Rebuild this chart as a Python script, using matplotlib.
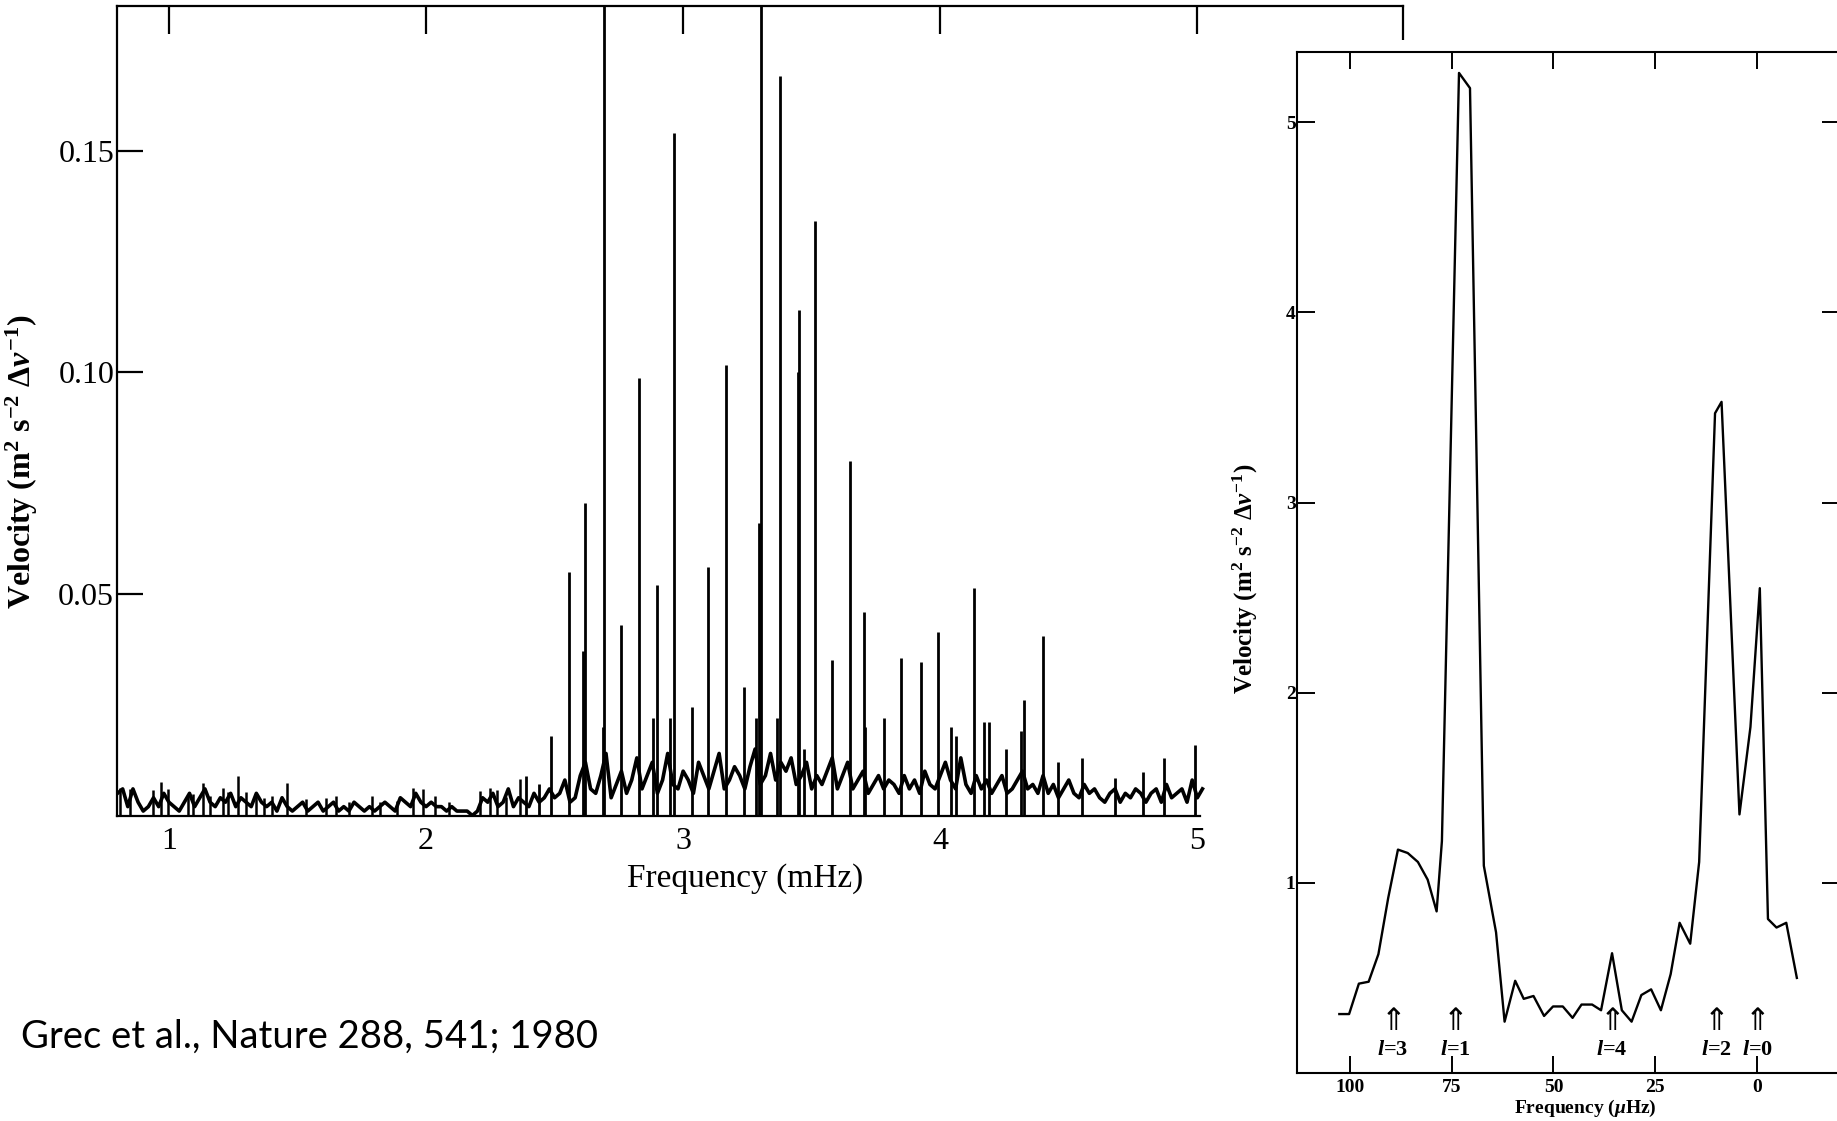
import numpy as np
import matplotlib.pyplot as plt
from matplotlib.patches import Rectangle

# ---- left panel: full velocity spectrum (mHz) ----
# noise floor, 0.80 .. 5.02 mHz every 0.02 mHz, in units of 0.001
floor_start = 0.80
floor_step = 0.02
floor_level = [
    5, 6, 2, 6, 3, 1, 2, 4, 2, 5, 3,
    2, 1, 3, 5, 2, 4, 6, 3, 2, 4,
    3, 5, 2, 4, 3, 2, 5, 3, 2, 3,
    1, 4, 2, 1, 2, 3, 1, 2, 3, 1,
    2, 3, 1, 2, 1, 3, 2, 1, 2, 1,
    2, 3, 2, 1, 4, 3, 2, 5, 3, 2,
    3, 2, 2, 1, 2, 1, 1, 1, 0, 1,
    4, 3, 5, 2, 3, 6, 2, 4, 3, 2,
    5, 3, 4, 6, 4, 5, 8, 3, 4, 9,
    12, 6, 5, 9, 14, 4, 7, 10, 5, 8,
    13, 6, 9, 12, 5, 8, 14, 7, 6, 10,
    8, 5, 12, 9, 6, 10, 14, 6, 8, 11,
    9, 6, 11, 15, 7, 9, 14, 8, 12, 10,
    13, 7, 9, 12, 6, 9, 7, 10, 13, 6,
    9, 12, 6, 8, 10, 5, 7, 9, 6, 8,
    7, 5, 9, 6, 8, 5, 10, 7, 6, 9,
    12, 8, 6, 13, 7, 5, 9, 6, 8, 5,
    7, 9, 5, 6, 8, 10, 6, 7, 5, 9,
    5, 7, 4, 6, 8, 5, 4, 7, 5, 6,
    4, 3, 5, 6, 3, 5, 4, 6, 5, 3,
    5, 6, 3, 7, 4, 5, 6, 3, 8, 4, 6,
]

# p-mode peaks
mode_f = [2.387, 2.44, 2.488, 2.556, 2.612, 2.619, 2.688, 2.694, 2.757, 2.829,
          2.884, 2.898, 2.95, 2.965, 3.034, 3.096, 3.166, 3.235, 3.285, 3.297,
          3.302, 3.365, 3.375, 3.445, 3.449, 3.47, 3.511, 3.578, 3.65, 3.704,
          3.709, 3.783, 3.847, 3.924, 3.992, 4.04, 4.061, 4.133, 4.17, 4.19,
          4.255, 4.313, 4.325, 4.40, 4.46, 4.55, 4.68, 4.79, 4.87, 4.99]
mode_h = [0.009, 0.007, 0.018, 0.055, 0.037, 0.0705, 0.020, 0.26, 0.043, 0.0986,
          0.022, 0.052, 0.022, 0.154, 0.0245, 0.056, 0.1016, 0.029, 0.022, 0.066,
          0.24, 0.022, 0.1667, 0.100, 0.114, 0.015, 0.134, 0.035, 0.080, 0.046,
          0.020, 0.022, 0.0355, 0.0347, 0.0415, 0.020, 0.018, 0.0514, 0.021, 0.021,
          0.015, 0.019, 0.026, 0.0406, 0.012, 0.013, 0.0085, 0.0098, 0.013, 0.0158]

# small noise spikes below 2.4 mHz
noise_f = [0.809, 0.848, 0.938, 0.971, 0.997, 1.075, 1.094, 1.133, 1.16, 1.21,
           1.23, 1.267, 1.30, 1.34, 1.37, 1.40, 1.46, 1.535, 1.61, 1.65,
           1.70, 1.79, 1.82, 1.886, 1.95, 1.99, 2.035, 2.09, 2.21, 2.25,
           2.275, 2.31, 2.366]
noise_h = [0.0063, 0.006, 0.0058, 0.0076, 0.006, 0.0045, 0.0048, 0.0073, 0.0045, 0.0063,
           0.0052, 0.0089, 0.0052, 0.0048, 0.004, 0.0045, 0.0074, 0.0037, 0.0039, 0.0043,
           0.003, 0.0045, 0.003, 0.0033, 0.0063, 0.006, 0.0045, 0.003, 0.0056, 0.0061,
           0.0058, 0.0041, 0.0082]

left_yticks = [0.05, 0.10, 0.15]
left_ylabels = ["0.05", "0.10", "0.15"]
left_xticks = [1, 2, 3, 4, 5]

# ---- right panel: superposed spectrum (muHz) ----
zoom_f = [102.6, 100.2, 97.8, 95.4, 93.0, 90.6, 88.2, 85.8, 83.3, 80.9,
          78.7, 77.4, 73.2, 70.5, 67.1, 64.1, 62.0, 59.4, 57.3, 54.9,
          52.3, 50.1, 47.7, 45.3, 43.1, 40.5, 38.3, 35.6, 33.2, 30.8,
          28.4, 26.0, 23.6, 21.2, 19.0, 16.4, 14.2, 10.3, 8.7, 4.3,
          1.6, -0.7, -2.7, -4.8, -7.2, -9.8]
zoom_v = [0.31, 0.31, 0.47, 0.48, 0.625, 0.92, 1.175, 1.157, 1.11, 1.017,
          0.85, 1.22, 5.26, 5.18, 1.09, 0.74, 0.27, 0.485, 0.39, 0.405,
          0.30, 0.35, 0.35, 0.29, 0.36, 0.36, 0.33, 0.63, 0.33, 0.27,
          0.41, 0.44, 0.33, 0.52, 0.79, 0.68, 1.11, 3.47, 3.53, 1.36,
          1.82, 2.55, 0.81, 0.765, 0.79, 0.50]
degree_f = [89.4, 74.0, 35.6, 9.9, -0.2]
degree_l = [3, 1, 4, 2, 0]
right_xticks = [100, 75, 50, 25, 0]
right_yticks = [1, 2, 3, 4, 5]

plt.rcParams.update({
    "font.family": ["Liberation Serif", "DejaVu Serif"],
    "mathtext.fontset": "custom",
    "mathtext.rm": "Liberation Serif:bold",
    "mathtext.it": "Liberation Serif:italic:bold",
    "mathtext.bf": "Liberation Serif:bold",
})

W, H = 1837, 1121


def box(x0, y0, x1, y1):
    # pixel box -> figure fraction
    return [x0 / W, 1 - y1 / H, (x1 - x0) / W, (y1 - y0) / H]


fig = plt.figure(figsize=(W / 100, H / 100), dpi=100)

# left panel
ax = fig.add_axes(box(117, 6, 1403, 815.5))
floor_f = floor_start + floor_step * np.arange(len(floor_level))
floor_v = np.array(floor_level) * 0.001
ax.plot(floor_f, floor_v, color="black", lw=2.6)
ax.vlines(mode_f, 0, mode_h, color="black", lw=2.0)
ax.vlines(noise_f, 0, noise_h, color="black", lw=1.8)
ax.set_xlim(0.798, 5.80)
ax.set_ylim(0, 0.1826)
ax.set_yticks(left_yticks)
ax.set_yticklabels(left_ylabels)
ax.set_xticks(left_xticks)
for s in ax.spines.values():
    s.set_linewidth(1.6)
ax.spines["bottom"].set_bounds(0.798, 5.01)
ax.tick_params(axis="x", bottom=False, top=True, labelbottom=True, direction="in",
               length=20, width=1.6, labelsize=23, pad=8)
ax.tick_params(axis="y", left=True, right=False, direction="in",
               length=19, width=1.6, labelsize=23, pad=2)

fig.text(745 / W, 1 - 879 / H, "Frequency (mHz)", fontsize=24,
         ha="center", va="center")
fig.text(22 / W, 1 - 462 / H, r"Velocity (m$^2$ s$^{-2}$ $\Delta\nu^{-1}$)",
         fontsize=23, weight="bold", rotation=90, ha="center", va="center")
fig.text(21 / W, 1 - 1037 / H, "Grec et al., Nature 288, 541; 1980",
         family="Lato", fontsize=27.5, ha="left", va="center")

# pasted panel covers the right part of the first frame
fig.add_artist(Rectangle((1208 / W, 0), 1 - 1208 / W, 1 - 40 / H,
                         transform=fig.transFigure, facecolor="white",
                         edgecolor="none", zorder=1))

# right panel
ax2 = fig.add_axes(box(1297, 52, 1840, 1073))
ax2.set_zorder(2)
ax2.plot(zoom_f, zoom_v, color="black", lw=1.7)
ax2.set_xlim(113, -20.4)
ax2.set_ylim(0, 5.37)
ax2.set_xticks(right_xticks)
ax2.set_yticks(right_yticks)
for s in ax2.spines.values():
    s.set_linewidth(1.5)
ax2.tick_params(axis="x", top=True, bottom=True, direction="in", length=12,
                width=1.4, labelsize=14, pad=4)
ax2.tick_params(axis="y", left=True, right=True, direction="in", length=13,
                width=1.4, labelsize=14, pad=1)
for lab in ax2.get_xticklabels() + ax2.get_yticklabels():
    lab.set_fontweight("bold")

for f, l in zip(degree_f, degree_l):
    ax2.text(f, 0.27, "\u21d1", family="DejaVu Sans", fontsize=22,
             ha="center", va="center")
    ax2.text(f, 0.12, r"$l$=%d" % l, fontsize=16, weight="bold",
             ha="center", va="center")

fig.text(1585 / W, 1 - 1108 / H, r"Frequency ($\mu$Hz)", fontsize=14,
         weight="bold", ha="center", va="center", zorder=3)
fig.text(1245 / W, 1 - 579 / H, r"Velocity (m$^2$ s$^{-2}$ $\Delta\nu^{-1}$)",
         fontsize=18, weight="bold", rotation=90, ha="center", va="center",
         zorder=3)

fig.savefig("out.png", dpi=100, facecolor="white")
